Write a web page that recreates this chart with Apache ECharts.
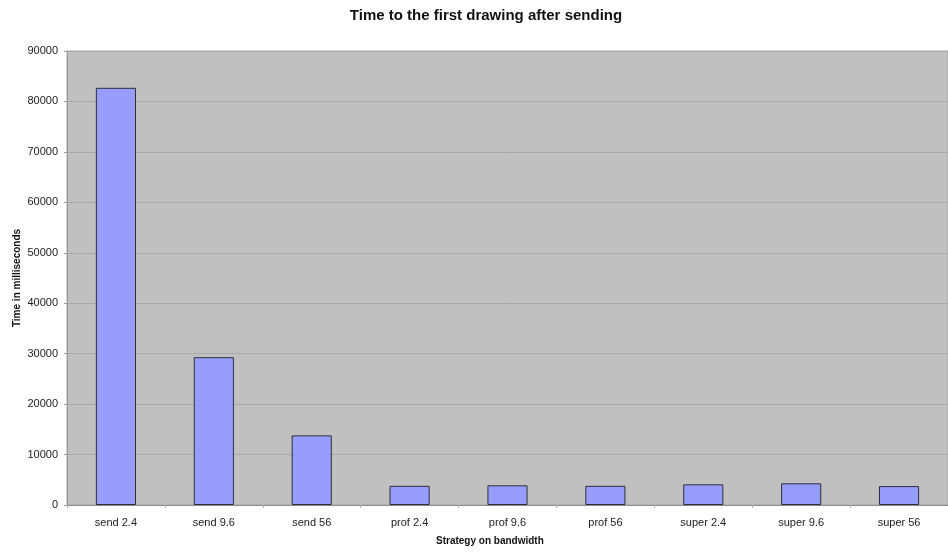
<!DOCTYPE html>
<html>
<head>
<meta charset="utf-8">
<script src="https://cdn.jsdelivr.net/npm/echarts@6/dist/echarts.min.js"></script>
<style>
  html, body { margin: 0; padding: 0; background: #fff; }
  #chart { width: 948px; height: 552px; }
</style>
</head>
<body>
<div id="chart"></div>
<script>
// Strategy / bandwidth combinations
const categories = ['send 2.4', 'send 9.6', 'send 56', 'prof 2.4', 'prof 9.6', 'prof 56', 'super 2.4', 'super 9.6', 'super 56'];
// Time until the first drawing, in milliseconds
const firstDrawMs = [82700, 29300, 13800, 3800, 3900, 3800, 4100, 4300, 3750];
// Value axis range
const yMin = 0;
const yMax = 90000;
const yStep = 10000;

const chart = echarts.init(document.getElementById('chart'), null, { renderer: 'canvas' });
const font = 'Liberation Sans, Arial, sans-serif';

chart.setOption({
  animation: false,
  backgroundColor: '#ffffff',
  title: {
    text: 'Time to the first drawing after sending',
    left: 481,
    top: 3,
    textAlign: 'center',
    textStyle: { fontFamily: font, fontSize: 15, fontWeight: 'bold', color: '#111' }
  },
  grid: {
    left: 67, right: 0, top: 51, bottom: 47,
    outerBoundsMode: 'none',
    containLabel: false,
    show: true,
    backgroundColor: '#c0c0c0',
    borderColor: '#a6a6a6',
    borderWidth: 1
  },
  xAxis: {
    type: 'category',
    data: categories,
    boundaryGap: true,
    axisLine: { show: true, lineStyle: { color: '#8c8c8c', width: 1 } },
    axisTick: { show: true, length: 3, alignWithLabel: false, lineStyle: { color: '#b0b0b0' } },
    axisLabel: { margin: 12, fontFamily: font, fontSize: 11, color: '#222' }
  },
  yAxis: {
    type: 'value',
    min: yMin, max: yMax, interval: yStep,
    axisLine: { show: true, lineStyle: { color: '#9a9a9a', width: 1 } },
    axisTick: { show: true, length: 3, lineStyle: { color: '#9a9a9a' } },
    axisLabel: {
      margin: 9, fontFamily: font, fontSize: 11, color: '#222',
      formatter: v => String(v)
    },
    splitLine: { show: true, lineStyle: { color: '#a9a9a9', width: 1 } }
  },
  graphic: [{
    // value axis title, rotated along the left edge
    type: 'text',
    x: 17,
    y: 278,
    rotation: Math.PI / 2,
    style: {
      text: 'Time in milliseconds',
      font: 'bold 10px ' + font,
      fill: '#111',
      align: 'center',
      verticalAlign: 'middle'
    }
  }, {
    // category axis title
    type: 'text',
    left: 436,
    top: 536,
    style: {
      text: 'Strategy on bandwidth',
      font: 'bold 10px ' + font,
      fill: '#111'
    }
  }],
  series: [{
    type: 'bar',
    data: firstDrawMs,
    barWidth: '41%',
    itemStyle: { color: '#969dfc', borderColor: '#2e2e3a', borderWidth: 1 }
  }]
});
</script>
</body>
</html>
